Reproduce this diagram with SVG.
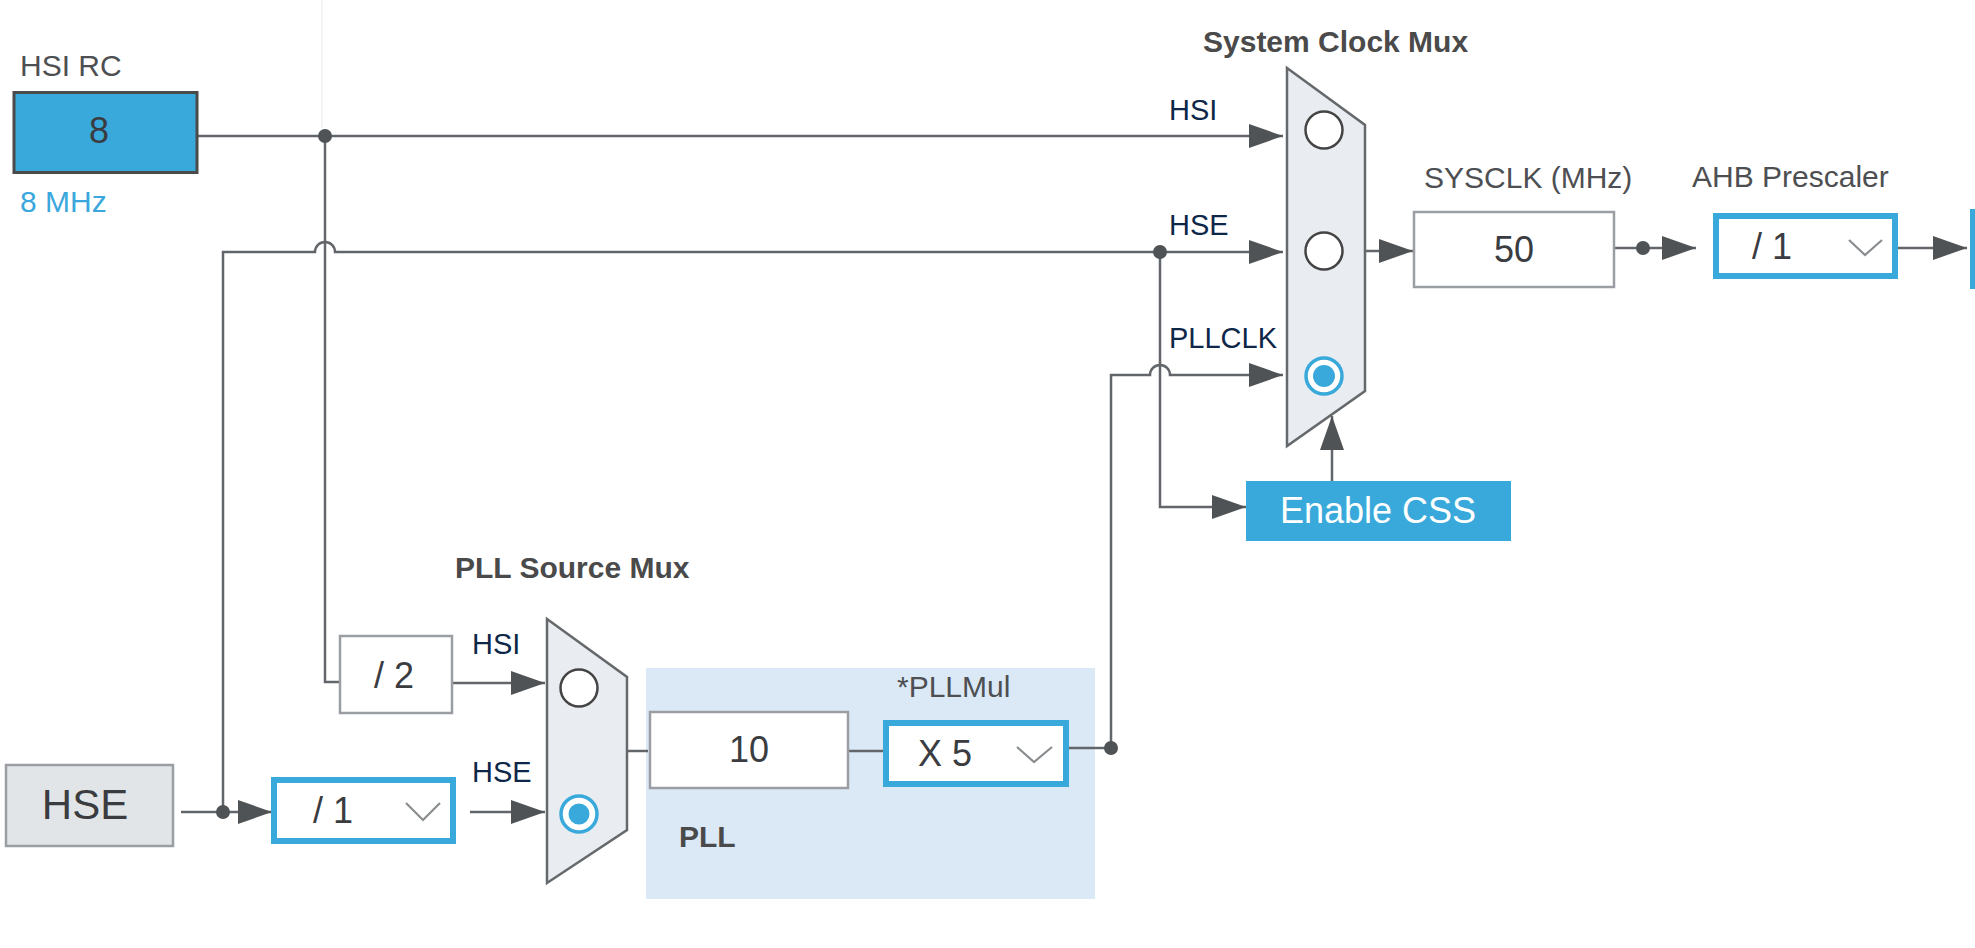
<svg xmlns="http://www.w3.org/2000/svg" width="1975" height="948" viewBox="0 0 1975 948">
<defs>
<style>
.wire{fill:none;stroke:#62666a;stroke-width:2.5}
.dot{fill:#4f5355}
.gbox{fill:#ffffff;stroke:#9a9ea2;stroke-width:2.5}
.bbox{fill:#ffffff;stroke:#39a9db;stroke-width:6}
.mux{fill:#e9edf1;stroke:#66696c;stroke-width:2.5}
.off{fill:#ffffff;stroke:#444;stroke-width:2.5}
.ring{fill:#ffffff;stroke:#39a9db;stroke-width:3.5}
.pick{fill:#39a9db}
.chev{fill:none;stroke:#8a8d90;stroke-width:2.2}
.lbl{font-family:"Liberation Sans",Arial,sans-serif;font-size:30px;fill:#4d4f52}
.bold{font-family:"Liberation Sans",Arial,sans-serif;font-size:30px;font-weight:bold;fill:#4a4a4a}
.in{font-family:"Liberation Sans",Arial,sans-serif;font-size:29px;fill:#0e2748}
.val{font-family:"Liberation Sans",Arial,sans-serif;font-size:36px;fill:#3a3c3f}
</style>
<marker id="ah" markerUnits="userSpaceOnUse" markerWidth="34" markerHeight="24" refX="34" refY="12" orient="auto">
<path d="M0,0 L34,12 L0,24 Z" fill="#4f5355"/>
</marker>
</defs>

<line x1="322" y1="0" x2="322" y2="128" stroke="#eef0f2" stroke-width="1.5"/>

<g id="pll-bg">
<rect x="646" y="668" width="449" height="231" fill="#dbe9f6"/>
<text class="bold" x="679" y="847">PLL</text>
</g>

<g id="connectors">
<path class="wire" d="M198,136 H1283" marker-end="url(#ah)"/>
<path class="wire" d="M325,136 V682 H339"/>
<path class="wire" d="M223,812 V252 H315 A10,10 0 0 1 335,252 H1283" marker-end="url(#ah)"/>
<path class="wire" d="M1160,252 V507 H1246" marker-end="url(#ah)"/>
<path class="wire" d="M181,812 H272" marker-end="url(#ah)"/>
<path class="wire" d="M453,683 H545" marker-end="url(#ah)"/>
<path class="wire" d="M470,812 H545" marker-end="url(#ah)"/>
<path class="wire" d="M627,751 H648"/>
<path class="wire" d="M849,751 H884"/>
<path class="wire" d="M1069,748 H1111 V375 H1150 A10,10 0 0 1 1170,375 H1283" marker-end="url(#ah)"/>
<path class="wire" d="M1365,251 H1413" marker-end="url(#ah)"/>
<path class="wire" d="M1615,248 H1696" marker-end="url(#ah)"/>
<path class="wire" d="M1898,248 H1967" marker-end="url(#ah)"/>
<path class="wire" d="M1332,481 V416" marker-end="url(#ah)"/>
<circle class="dot" cx="325" cy="136" r="7"/>
<circle class="dot" cx="1160" cy="252" r="7"/>
<circle class="dot" cx="223" cy="812" r="7"/>
<circle class="dot" cx="1111" cy="748" r="7"/>
<circle class="dot" cx="1643" cy="248" r="7"/>
</g>

<g id="hsi-rc">
<text class="lbl" x="20" y="76">HSI RC</text>
<rect x="14" y="92.5" width="183" height="80" fill="#39a9db" stroke="#4a4a4a" stroke-width="3"/>
<text class="val" x="99" y="143" text-anchor="middle" fill="#2f3a40">8</text>
<text class="lbl" x="20" y="212" fill="#3aa8dc" style="fill:#3aa8dc">8 MHz</text>
</g>

<g id="hse">
<rect x="6" y="765" width="167" height="81" fill="#e2e5e8" stroke="#9a9ea2" stroke-width="2.5"/>
<text class="val" x="85" y="819" text-anchor="middle" style="font-size:42px">HSE</text>
</g>

<g id="hse-div">
<rect class="bbox" x="274" y="780" width="179" height="61"/>
<text class="val" x="313" y="823">/ 1</text>
<polyline class="chev" points="406,803 423,820 440,803"/>
</g>

<g id="hsi-div2">
<rect class="gbox" x="340" y="636" width="112" height="77"/>
<text class="val" x="394" y="688" text-anchor="middle">/ 2</text>
</g>

<g id="pll-source-mux">
<text class="bold" x="455" y="578">PLL Source Mux</text>
<text class="in" x="472" y="654">HSI</text>
<text class="in" x="472" y="782">HSE</text>
<polygon class="mux" points="547,619 627,677 627,830 547,883"/>
<circle class="off" cx="579" cy="688" r="18.5"/>
<circle class="ring" cx="579" cy="814" r="18"/>
<circle class="pick" cx="579" cy="814" r="10.5"/>
</g>

<g id="pll-div">
<rect class="gbox" x="650" y="712" width="198" height="76"/>
<text class="val" x="749" y="762" text-anchor="middle">10</text>
</g>

<g id="pll-mul">
<text class="lbl" x="897" y="697">*PLLMul</text>
<rect class="bbox" x="886" y="723" width="180" height="61"/>
<text class="val" x="918" y="766">X 5</text>
<polyline class="chev" points="1017,747 1034,762 1052,747"/>
</g>

<g id="system-clock-mux">
<text class="bold" x="1203" y="52">System Clock Mux</text>
<text class="in" x="1169" y="120">HSI</text>
<text class="in" x="1169" y="235">HSE</text>
<text class="in" x="1169" y="348">PLLCLK</text>
<polygon class="mux" points="1287,68 1365,125 1365,391 1287,446"/>
<circle class="off" cx="1324" cy="130" r="18.5"/>
<circle class="off" cx="1324" cy="251" r="18.5"/>
<circle class="ring" cx="1324" cy="376" r="18"/>
<circle class="pick" cx="1324" cy="376" r="11"/>
</g>

<g id="enable-css">
<rect x="1246" y="481" width="265" height="60" fill="#39a9db"/>
<text class="val" x="1378" y="523" text-anchor="middle" style="fill:#ffffff">Enable CSS</text>
</g>

<g id="sysclk">
<text class="lbl" x="1424" y="188">SYSCLK (MHz)</text>
<rect class="gbox" x="1414" y="212" width="200" height="75"/>
<text class="val" x="1514" y="262" text-anchor="middle">50</text>
</g>

<g id="ahb-prescaler">
<text class="lbl" x="1692" y="187">AHB Prescaler</text>
<rect class="bbox" x="1716" y="216" width="179" height="60"/>
<text class="val" x="1752" y="259">/ 1</text>
<polyline class="chev" points="1849,240 1865,255 1882,240"/>
</g>

<g id="next-box">
<rect x="1973" y="212" width="100" height="74" fill="#ffffff" stroke="#39a9db" stroke-width="6"/>
</g>
</svg>
